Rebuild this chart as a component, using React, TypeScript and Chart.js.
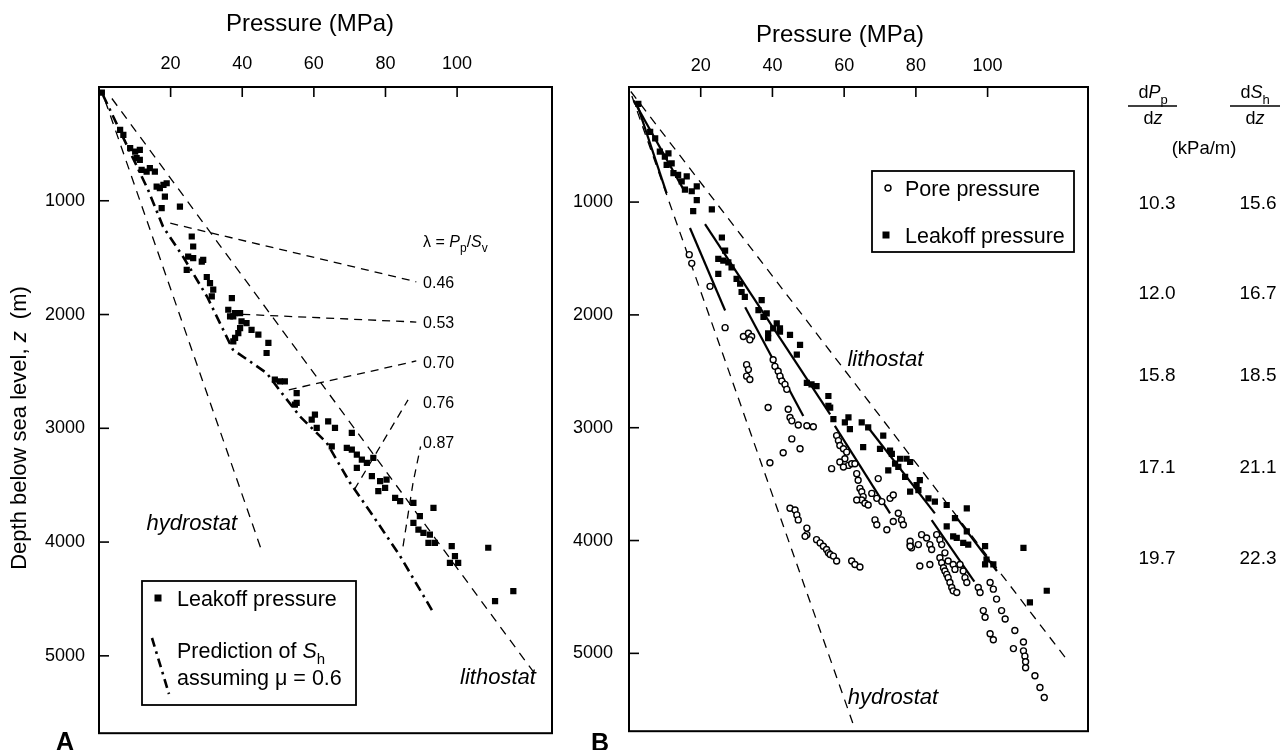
import React, { useEffect, useRef } from "react";
import { Chart, registerables } from "chart.js";
Chart.register(...registerables);

const FF = "'Liberation Sans', Arial, Helvetica, sans-serif";

// ---------- axis ticks ----------
const pressureTicks = [20, 40, 60, 80, 100];
const depthTicks = [1000, 2000, 3000, 4000, 5000];

// ---------- Panel A data: [pressure MPa, depth m] ----------
const leakoffA: [number, number][] = [
  [0.8, 50], [5.9, 377], [6.8, 421], [8.7, 538], [10.1, 568], [11.4, 553], [10.5, 626], [11.4, 641],
  [11.9, 729], [13.3, 744], [14.2, 714], [15.6, 744], [16.1, 875], [17.0, 889], [18.0, 860], [18.9, 846],
  [18.4, 963], [17.5, 1065], [22.6, 1051], [25.9, 1314], [26.3, 1402], [24.9, 1490], [26.3, 1504],
  [28.7, 1534], [24.5, 1607], [29.1, 1519], [30.1, 1670], [31.0, 1724], [31.9, 1782], [31.5, 1841],
  [37.1, 1855], [36.1, 1958], [36.6, 2017], [38.0, 1987], [39.4, 1987], [37.5, 2017], [39.8, 2061],
  [41.2, 2075], [42.6, 2134], [38.9, 2163], [38.0, 2206], [44.5, 2177], [37.5, 2236], [39.4, 2119],
  [47.3, 2250], [46.8, 2338], [49.1, 2573], [50.5, 2588], [51.9, 2588], [55.2, 2690], [55.2, 2777],
  [54.7, 2792], [60.3, 2880], [59.4, 2924], [60.8, 2997], [64.0, 2939], [65.9, 2997], [70.6, 3041],
  [65.0, 3158], [69.2, 3172], [70.6, 3187], [72.0, 3231], [73.4, 3275], [74.8, 3304], [76.6, 3260],
  [72.0, 3348], [76.2, 3421], [78.5, 3465], [80.3, 3451], [79.9, 3523], [78.0, 3553], [82.7, 3611],
  [84.1, 3641], [87.8, 3655], [93.4, 3699], [89.6, 3772], [87.8, 3831], [89.2, 3890], [90.6, 3919],
  [92.4, 3934], [92.0, 4007], [93.8, 4007], [98.5, 4036], [99.4, 4124], [98.0, 4182], [100.3, 4182],
  [108.7, 4050], [110.6, 4519], [115.7, 4431],
];
const hydrostatA: [number, number][] = [[1.7, 118], [45.6, 4092]];
const lithostatA: [number, number][] = [[3.6, 101], [122.0, 5171]];
const predictionShA: [number, number][] = [
  [1.1, 70], [13.7, 904], [17.9, 1229], [23.5, 1493], [30.2, 1844], [37.4, 2309], [46.8, 2514],
  [49.6, 2631], [56.1, 2895], [63.6, 3128], [70.1, 3479], [76.6, 3773], [84.1, 4124], [93.4, 4621],
];
const lambdaValues = ["0.46", "0.53", "0.70", "0.76", "0.87"];
const lambdaLabelDepths = [1715, 2066, 2417, 2768, 3120];
const lambdaLabelPressure = 90.5;
const lambdaHeaderDepth = 1358;
const lambdaLines: [number, number][][] = [
  [[19.9, 1197], [88.6, 1712]],
  [[40.0, 1998], [88.6, 2066]],
  [[53.0, 2662], [88.6, 2408]],
  [[71.3, 3539], [86.3, 2750]],
  [[84.9, 4037], [87.7, 3478], [89.8, 3160]],
];

// ---------- Panel B data ----------
const leakoffB: [number, number][] = [
  [2.6, 129], [5.9, 378], [7.3, 436], [8.6, 553], [10.0, 597], [11.0, 568], [10.5, 670], [11.9, 656],
  [12.4, 744], [13.7, 758], [14.7, 817], [16.1, 773], [15.6, 889], [17.5, 904], [18.9, 860], [18.9, 983],
  [17.9, 1080], [23.1, 1065], [25.9, 1314], [26.8, 1431], [24.9, 1504], [26.3, 1519], [27.7, 1534],
  [28.6, 1578], [24.9, 1636], [30.0, 1680], [31.0, 1724], [31.4, 1797], [32.3, 1841], [37.0, 1870],
  [36.1, 1958], [37.5, 2017], [38.4, 1987], [41.2, 2075], [40.2, 2119], [42.1, 2119], [38.8, 2206],
  [44.9, 2177], [47.7, 2265], [46.8, 2353], [42.1, 2148], [38.8, 2163], [49.6, 2602], [50.9, 2616],
  [52.3, 2631], [55.6, 2719], [55.6, 2807], [56.1, 2821], [57.0, 2924], [60.2, 2953], [61.2, 2909],
  [61.6, 3012], [64.9, 2953], [66.7, 2997], [65.3, 3172], [70.0, 3187], [70.9, 3070], [72.8, 3202],
  [73.3, 3231], [72.3, 3378], [75.6, 3275], [77.4, 3275], [78.4, 3304], [74.2, 3319], [75.1, 3348],
  [77.0, 3436], [78.4, 3567], [81.1, 3465], [80.2, 3509], [80.7, 3553], [83.5, 3626], [85.3, 3655],
  [88.6, 3685], [94.2, 3714], [90.9, 3802], [88.6, 3875], [94.2, 3919], [90.4, 3963], [91.4, 3977],
  [93.2, 4021], [94.6, 4036], [99.3, 4050], [99.7, 4168], [101.6, 4212], [99.3, 4212], [110.0, 4065],
  [111.8, 4548], [116.5, 4445],
];
const poreB: [number, number][] = [
  [16.8, 1466], [17.5, 1543], [22.6, 1747], [26.8, 2113], [31.9, 2192], [33.3, 2163], [34.2, 2192],
  [33.7, 2221], [32.8, 2441], [33.3, 2485], [32.8, 2543], [33.7, 2573], [40.2, 2397], [40.7, 2456],
  [41.6, 2500], [42.1, 2543], [42.6, 2587], [43.5, 2616], [44.0, 2660], [38.8, 2821], [44.4, 2836],
  [44.9, 2909], [45.4, 2939], [47.2, 2976], [49.6, 2982], [51.4, 2991], [45.4, 3099], [47.7, 3187],
  [43.0, 3222], [39.3, 3310], [57.9, 3070], [58.4, 3114], [58.8, 3158], [59.8, 3187], [60.7, 3216],
  [60.2, 3275], [58.8, 3304], [61.2, 3334], [62.1, 3319], [63.0, 3319], [59.8, 3348], [56.5, 3363],
  [63.5, 3407], [63.9, 3465], [64.4, 3538], [64.9, 3567], [65.3, 3611], [64.9, 3641], [65.8, 3670],
  [63.5, 3641], [66.7, 3685], [67.7, 3582], [69.5, 3451], [69.1, 3626], [70.5, 3655], [72.8, 3626],
  [73.7, 3597], [68.6, 3817], [69.1, 3860], [71.9, 3904], [73.7, 3831], [75.1, 3758], [76.0, 3817],
  [76.5, 3860], [44.9, 3714], [46.3, 3729], [46.8, 3773], [47.2, 3817], [49.6, 3890], [49.6, 3948],
  [49.1, 3963], [52.3, 3992], [53.3, 4021], [54.2, 4050], [55.1, 4080], [55.6, 4109], [56.1, 4124],
  [57.0, 4138], [57.9, 4182], [62.1, 4182], [63.0, 4212], [64.4, 4235], [78.4, 4036], [78.8, 4065],
  [80.7, 4036], [81.6, 3948], [83.0, 3977], [83.9, 4036], [84.4, 4080], [85.8, 3948], [86.7, 3992],
  [87.2, 4036], [81.1, 4226], [83.9, 4212], [86.7, 4153], [87.2, 4197], [87.7, 4241], [88.1, 4270],
  [88.6, 4300], [89.0, 4329], [89.5, 4372], [90.0, 4416], [90.4, 4446], [91.4, 4460], [88.1, 4109],
  [89.0, 4182], [90.4, 4212], [90.9, 4256], [92.3, 4212], [93.2, 4270], [93.7, 4329], [94.2, 4372],
  [97.4, 4416], [97.9, 4460], [100.7, 4372], [101.6, 4431], [102.5, 4519], [98.8, 4621], [99.3, 4680],
  [103.9, 4621], [104.9, 4695], [100.7, 4826], [101.6, 4879], [107.6, 4797], [107.2, 4958],
  [110.0, 4899], [110.0, 4978], [110.4, 5025], [110.6, 5075], [110.6, 5127], [113.2, 5198],
  [114.6, 5303], [115.8, 5391], [78.4, 4006], [78.4, 4050],
];
const hydrostatB: [number, number][] = [[0.8, 60], [62.4, 5617]];
const lithostatB: [number, number][] = [[0.5, 20], [122.1, 5055]];
const fitLinesB: [number, number][][] = [
  [[2.1, 118], [10.5, 923]],
  [[1.3, 100], [15.5, 905]],
  [[17.0, 1230], [26.8, 1961]],
  [[21.2, 1195], [56.1, 2882]],
  [[32.4, 1932], [48.6, 2897]],
  [[57.4, 2984], [72.8, 3759]],
  [[66.7, 2998], [85.3, 3759]],
  [[84.4, 3818], [96.3, 4365]],
  [[91.2, 3790], [102.6, 4270]],
];
const gradPp = ["10.3", "12.0", "15.8", "17.1", "19.7"];
const gradSh = ["15.6", "16.7", "18.5", "21.1", "22.3"];
const gradRowDepths = [1000, 1800, 2525, 3345, 4150];

// ---------- helpers ----------
type Seg = { t: string; it?: boolean; sub?: boolean; bold?: boolean };
const xy = (arr: [number, number][]) => arr.map(([x, y]) => ({ x, y }));

function drawSegs(ctx: CanvasRenderingContext2D, segs: Seg[], x: number, yc: number, size: number,
  align: "left" | "center" | "right" = "left") {
  const fontOf = (s: Seg) =>
    `${s.it ? "italic " : ""}${s.bold ? "bold " : ""}${s.sub ? Math.round(size * 0.72) : size}px ${FF}`;
  let total = 0;
  const ws = segs.map((s) => {
    ctx.font = fontOf(s);
    const w = ctx.measureText(s.t).width;
    total += w;
    return w;
  });
  let cx = align === "left" ? x : align === "center" ? x - total / 2 : x - total;
  const base = yc + size * 0.36;
  ctx.textAlign = "left";
  ctx.textBaseline = "alphabetic";
  ctx.fillStyle = "#000";
  segs.forEach((s, i) => {
    ctx.font = fontOf(s);
    ctx.fillText(s.t, cx, base + (s.sub ? size * 0.28 : 0));
    cx += ws[i];
  });
}

const framePlugin = {
  id: "frameTicks",
  afterDraw(chart: any) {
    const { ctx, chartArea: ca, scales } = chart;
    ctx.save();
    ctx.strokeStyle = "#000";
    ctx.lineWidth = 2;
    ctx.setLineDash([]);
    ctx.strokeRect(ca.left, ca.top, ca.right - ca.left, ca.bottom - ca.top);
    ctx.lineWidth = 1.6;
    scales.x.ticks.forEach((t: any) => {
      const px = scales.x.getPixelForValue(t.value);
      ctx.beginPath(); ctx.moveTo(px, ca.top); ctx.lineTo(px, ca.top + 10); ctx.stroke();
    });
    scales.y.ticks.forEach((t: any) => {
      const py = scales.y.getPixelForValue(t.value);
      ctx.beginPath(); ctx.moveTo(ca.left, py); ctx.lineTo(ca.left + 10, py); ctx.stroke();
    });
    ctx.restore();
  },
};

function line(ctx: CanvasRenderingContext2D, pts: number[][], width: number, dash: number[]) {
  ctx.save();
  ctx.strokeStyle = "#000";
  ctx.lineWidth = width;
  ctx.setLineDash(dash);
  ctx.beginPath();
  pts.forEach(([x, y], i) => (i ? ctx.lineTo(x, y) : ctx.moveTo(x, y)));
  ctx.stroke();
  ctx.restore();
}

const annotA = {
  id: "annotA",
  afterDraw(chart: any) {
    const { ctx, scales } = chart;
    const X = (v: number) => scales.x.getPixelForValue(v);
    const Y = (v: number) => scales.y.getPixelForValue(v);
    ctx.save();
    drawSegs(ctx, [{ t: "Pressure (MPa)" }], 310, 22, 24, "center");
    // y title
    ctx.save();
    ctx.translate(18, 428);
    ctx.rotate(-Math.PI / 2);
    drawSegs(ctx, [{ t: "Depth below sea level, " }, { t: "z", it: true }, { t: "  (m)" }], 0, 0, 22, "center");
    ctx.restore();
    // lambda labels
    drawSegs(ctx, [{ t: "λ = " }, { t: "P", it: true }, { t: "p", sub: true }, { t: "/" }, { t: "S", it: true }, { t: "v", sub: true }],
      X(lambdaLabelPressure), Y(lambdaHeaderDepth), 16, "left");
    lambdaValues.forEach((v, i) => drawSegs(ctx, [{ t: v }], X(lambdaLabelPressure), Y(lambdaLabelDepths[i]), 16, "left"));
    drawSegs(ctx, [{ t: "hydrostat", it: true }], X(25.9), Y(3828), 22, "center");
    drawSegs(ctx, [{ t: "lithostat", it: true }], X(111.4), Y(5180), 22, "center");
    // legend
    ctx.strokeStyle = "#000";
    ctx.lineWidth = 1.8;
    ctx.setLineDash([]);
    ctx.strokeRect(142, 581, 214, 124);
    ctx.fillStyle = "#000";
    ctx.fillRect(154.5, 594.5, 7, 7);
    drawSegs(ctx, [{ t: "Leakoff pressure" }], 177, 598, 21.5, "left");
    line(ctx, [[152, 638], [169, 694]], 2.6, [9, 5, 2.5, 5]);
    drawSegs(ctx, [{ t: "Prediction of " }, { t: "S", it: true }, { t: "h", sub: true }], 177, 650, 21.5, "left");
    drawSegs(ctx, [{ t: "assuming μ = 0.6" }], 177, 677, 21.5, "left");
    drawSegs(ctx, [{ t: "A", bold: true }], 65, 741, 25, "center");
    ctx.restore();
  },
};

const annotB = {
  id: "annotB",
  afterDraw(chart: any) {
    const { ctx, scales } = chart;
    const X = (v: number) => scales.x.getPixelForValue(v);
    const Y = (v: number) => scales.y.getPixelForValue(v);
    ctx.save();
    drawSegs(ctx, [{ t: "Pressure (MPa)" }], 840, 33, 24, "center");
    drawSegs(ctx, [{ t: "lithostat", it: true }], X(71.5), Y(2379), 22, "center");
    drawSegs(ctx, [{ t: "hydrostat", it: true }], X(73.6), Y(5382), 22, "center");
    // legend
    ctx.strokeStyle = "#000";
    ctx.lineWidth = 1.8;
    ctx.setLineDash([]);
    ctx.strokeRect(872, 171, 202, 81);
    ctx.lineWidth = 1.4;
    ctx.beginPath(); ctx.arc(888, 188, 3, 0, Math.PI * 2); ctx.stroke();
    ctx.fillStyle = "#000";
    ctx.fillRect(882.5, 231.5, 7, 7);
    drawSegs(ctx, [{ t: "Pore pressure" }], 905, 188, 21.5, "left");
    drawSegs(ctx, [{ t: "Leakoff pressure" }], 905, 235, 21.5, "left");
    // gradient table
    const c1 = 1153, c2 = 1255;
    drawSegs(ctx, [{ t: "d" }, { t: "P", it: true }, { t: "p", sub: true }], c1, 92, 18, "center");
    drawSegs(ctx, [{ t: "d" }, { t: "z", it: true }], c1, 118, 18, "center");
    drawSegs(ctx, [{ t: "d" }, { t: "S", it: true }, { t: "h", sub: true }], c2, 92, 18, "center");
    drawSegs(ctx, [{ t: "d" }, { t: "z", it: true }], c2, 118, 18, "center");
    line(ctx, [[1128, 106], [1177, 106]], 1.3, []);
    line(ctx, [[1230, 106], [1280, 106]], 1.3, []);
    drawSegs(ctx, [{ t: "(kPa/m)" }], 1204, 147, 18.5, "center");
    gradPp.forEach((v, i) => {
      drawSegs(ctx, [{ t: v }], 1157, Y(gradRowDepths[i]), 19, "center");
      drawSegs(ctx, [{ t: gradSh[i] }], 1258, Y(gradRowDepths[i]), 19, "center");
    });
    drawSegs(ctx, [{ t: "B", bold: true }], 600, 742, 25, "center");
    ctx.restore();
  },
};

function scalesFor(xMax: number, yMin: number, yMax: number, yWidth: number, xPad: number, yPad: number) {
  const tickFont = { size: 18, family: FF };
  return {
    x: {
      type: "linear", position: "top", min: 0, max: xMax,
      grid: { display: false }, border: { display: false },
      ticks: { font: tickFont, color: "#000", padding: xPad, autoSkip: false, maxRotation: 0, callback: (v: any) => String(v) },
      afterBuildTicks: (s: any) => { s.ticks = pressureTicks.map((v) => ({ value: v })); },
      afterFit: (s: any) => { s.height = 87; },
    },
    y: {
      type: "linear", position: "left", reverse: true, min: yMin, max: yMax,
      grid: { display: false }, border: { display: false },
      ticks: { font: tickFont, color: "#000", padding: yPad, autoSkip: false, callback: (v: any) => String(v) },
      afterBuildTicks: (s: any) => { s.ticks = depthTicks.map((v) => ({ value: v })); },
      afterFit: (s: any) => { s.width = yWidth; },
    },
  };
}

const dashed = { borderColor: "#000", borderWidth: 1.3, borderDash: [9, 7], pointRadius: 0, showLine: true, fill: false };

export default function App() {
  const refA = useRef<HTMLCanvasElement>(null);
  const refB = useRef<HTMLCanvasElement>(null);
  useEffect(() => {
    document.body.style.margin = "0";
    const chartA = new Chart(refA.current as HTMLCanvasElement, {
      type: "scatter",
      data: {
        datasets: [
          { data: xy(leakoffA), pointStyle: "rect", pointRadius: 4.4, backgroundColor: "#000", borderWidth: 0 } as any,
          { data: xy(hydrostatA), ...dashed },
          { data: xy(lithostatA), ...dashed },
          { data: xy(predictionShA), showLine: true, borderColor: "#000", borderWidth: 2.6, borderDash: [10, 5, 2.5, 5], pointRadius: 0 },
          ...lambdaLines.map((l) => ({ data: xy(l), ...dashed, borderDash: [8, 6] })),
        ],
      },
      options: {
        responsive: false, animation: false, events: [],
        layout: { padding: { left: 0, top: 0, right: 736, bottom: 16 } },
        plugins: { legend: { display: false }, tooltip: { enabled: false } },
        scales: scalesFor(126.5, 0, 5680, 99, 4, 6) as any,
      },
      plugins: [framePlugin, annotA],
    });
    const chartB = new Chart(refB.current as HTMLCanvasElement, {
      type: "scatter",
      data: {
        datasets: [
          { data: xy(leakoffB), pointStyle: "rect", pointRadius: 4.4, backgroundColor: "#000", borderWidth: 0 } as any,
          { data: xy(poreB), pointStyle: "circle", pointRadius: 3, backgroundColor: "#fff", borderColor: "#000", borderWidth: 1.4 },
          { data: xy(hydrostatB), ...dashed },
          { data: xy(lithostatB), ...dashed },
          ...fitLinesB.map((l) => ({ data: xy(l), showLine: true, borderColor: "#000", borderWidth: 2.2, pointRadius: 0 })),
        ],
      },
      options: {
        responsive: false, animation: false, events: [],
        layout: { padding: { left: 549, top: 0, right: 200, bottom: 15 } },
        plugins: { legend: { display: false }, tooltip: { enabled: false } },
        scales: scalesFor(128, -20, 5690, 80, 2, 8) as any,
      },
      plugins: [framePlugin, annotB],
    });
    return () => {
      chartA.destroy();
      chartB.destroy();
    };
  }, []);
  return (
    <div style={{ position: "relative", width: 1288, height: 750, background: "#fff", overflow: "hidden" }}>
      <canvas ref={refA} width={1288} height={750} style={{ position: "absolute", left: 0, top: 0 }} />
      <canvas ref={refB} width={1288} height={750} style={{ position: "absolute", left: 0, top: 0 }} />
    </div>
  );
}
